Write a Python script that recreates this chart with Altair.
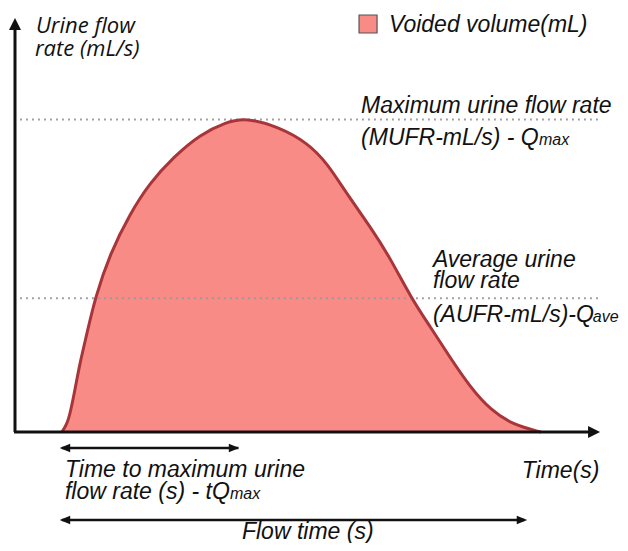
import altair as alt
import pandas as pd

# ---- data (time in s, flow rate in mL/s) ----
time_s = [1.95, 2.15, 2.3, 2.5, 2.7, 3.0, 3.33, 3.96, 4.8, 5.6, 6.6, 7.7, 8.8, 9.6,
          11.0, 12.2, 13.0, 13.8, 14.8, 15.6, 16.5, 17.3, 18.1, 18.95, 19.8, 20.75, 21.9]
flow_ml_s = [0, 0.56, 1.5, 3.4, 5.5, 7.9, 10.7, 14.3, 17.5, 19.9, 22.0, 23.8, 24.8, 25.15,
             24.4, 23.1, 21.5, 19.1, 16.4, 14.0, 10.7, 8.4, 6.0, 3.6, 1.76, 0.56, 0]
q_max = 25.0
q_ave = 10.7
flow_start = 1.95
t_qmax = 9.3
flow_end = 21.2

# annotation anchors (data units)
axis_title_lines = ["Urine flow", "rate (mL/s)"]
axis_title_t = [0.87, 0.83]
axis_title_q = [31.92, 30.08]

label_text = ["Voided volume(mL)",
              "Maximum urine flow rate", "(MUFR-mL/s) - Q",
              "Average urine", "flow rate", "(AUFR-mL/s)-Q",
              "Time to maximum urine", "flow rate (s) - tQ",
              "Time(s)"]
label_t = [15.57, 14.41, 14.41, 17.40, 17.40, 17.40, 2.08, 2.08, 21.1]
label_q = [32.0, 25.52, 22.96, 13.2, 11.52, 8.8, -3.6, -5.36, -3.68]

sub_text = ["max", "ave", "max"]
sub_t = [21.82, 24.06, 8.95]
sub_q = [22.96, 8.8, -5.36]

flow_time_label = ["Flow time (s)"]
flow_time_t = [9.45]
flow_time_q = [-8.56]

legend_t, legend_q = [14.70], [32.64]

FILL = "#F98B87"
EDGE = "#A8353A"
INK = "#111111"

X = alt.Scale(domain=[0, 24.4], nice=False, zero=False)
Y = alt.Scale(domain=[-8.88, 33.92], nice=False, zero=False)


def ex(f="t"):
    return alt.X(f"{f}:Q", scale=X, axis=None)


def ey(f="q"):
    return alt.Y(f"{f}:Q", scale=Y, axis=None)


curve = pd.DataFrame({"t": time_s, "q": flow_ml_s})

area = alt.Chart(curve).mark_area(interpolate="basis", color=FILL).encode(
    x=ex(), y=ey(), y2=alt.datum(0))
line = alt.Chart(curve).mark_line(interpolate="basis", color=EDGE, strokeWidth=3).encode(
    x=ex(), y=ey())

# reference lines (dotted)
refs = pd.DataFrame({"t": [0.21, 0.21], "t2": [24.36, 24.36], "q": [q_max, q_ave]})
ref_rules = alt.Chart(refs).mark_rule(color="#9a9a9a", strokeWidth=1.8, strokeDash=[1.8, 4.2]).encode(
    x=ex("t"), x2="t2:Q", y=ey("q"))

# axes drawn as arrows
axes = pd.DataFrame({"t": [0, -0.04], "t2": [0, 24.0], "q": [0, 0], "q2": [32.3, 0]})
axis_rules = alt.Chart(axes).mark_rule(color=INK, strokeWidth=3).encode(
    x=ex("t"), x2="t2:Q", y=ey("q"), y2="q2:Q")

heads_big = pd.DataFrame({
    "t": [0, 24.11], "q": [32.64, 0],
    "shape": ["M0,-1L1,1L-1,1Z", "M1,0L-1,-1L-1,1Z"]})
axis_heads = alt.Chart(heads_big).mark_point(filled=True, color=INK, opacity=1, size=144, strokeWidth=0).encode(
    x=ex(), y=ey(), shape=alt.Shape("shape:N", scale=None, legend=None))

# double-headed time arrows
spans = pd.DataFrame({"t": [flow_start, flow_start], "t2": [t_qmax, flow_end], "q": [-1.28, -7.04]})
span_rules = alt.Chart(spans).mark_rule(color=INK, strokeWidth=2.5).encode(
    x=ex("t"), x2="t2:Q", y=ey("q"))
heads_small = pd.DataFrame({
    "t": [2.08, 9.12, 2.08, 21.11], "q": [-1.28, -1.28, -7.04, -7.04],
    "shape": ["M-1,0L1,-0.8L1,0.8Z", "M1,0L-1,-0.8L-1,0.8Z",
              "M-1,0L1,-0.8L1,0.8Z", "M1,0L-1,-0.8L-1,0.8Z"]})
span_heads = alt.Chart(heads_small).mark_point(filled=True, color=INK, opacity=1, size=110, strokeWidth=0).encode(
    x=ex(), y=ey(), shape=alt.Shape("shape:N", scale=None, legend=None))

# legend swatch
legend_sw = alt.Chart(pd.DataFrame({"t": legend_t, "q": legend_q})).mark_point(
    shape="square", filled=True, fill=FILL, stroke="#555555", strokeWidth=1.2, opacity=1, size=324).encode(
    x=ex(), y=ey())

# texts
ytitle = alt.Chart(pd.DataFrame({"t": axis_title_t, "q": axis_title_q, "label": axis_title_lines})).mark_text(
    align="left", baseline="alphabetic", font="Open Sans", fontStyle="italic", fontSize=22, color=INK).encode(
    x=ex(), y=ey(), text="label:N")

labels = alt.Chart(pd.DataFrame({"t": label_t, "q": label_q, "label": label_text})).mark_text(
    align="left", baseline="alphabetic", font="Liberation Sans", fontStyle="italic", fontSize=23, color=INK).encode(
    x=ex(), y=ey(), text="label:N")

subs = alt.Chart(pd.DataFrame({"t": sub_t, "q": sub_q, "label": sub_text})).mark_text(
    align="left", baseline="alphabetic", font="Liberation Sans", fontStyle="italic", fontSize=16, color=INK).encode(
    x=ex(), y=ey(), text="label:N")

flow_lbl = alt.Chart(pd.DataFrame({"t": flow_time_t, "q": flow_time_q, "label": flow_time_label})).mark_text(
    align="left", baseline="alphabetic", font="Liberation Sans", fontStyle="italic", fontSize=23, color=INK).encode(
    x=ex(), y=ey(), text="label:N")

chart = alt.layer(
    area, ref_rules, line, axis_rules, axis_heads, span_rules, span_heads,
    legend_sw, ytitle, labels, subs, flow_lbl
).properties(
    width=586, height=535,
    padding={"left": 7, "top": 0, "right": 19, "bottom": 0},
    autosize=alt.AutoSizeParams(type="none"),
).configure_view(stroke=None)

chart.save("out.html", embed_options={"renderer": "svg", "actions": False})
